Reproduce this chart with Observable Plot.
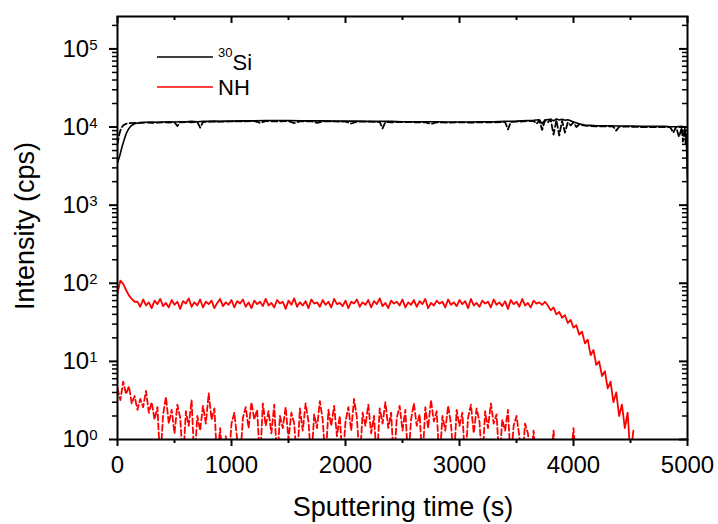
<!DOCTYPE html>
<html><head><meta charset="utf-8">
<script src="https://cdn.jsdelivr.net/npm/d3@7"></script>
<script src="https://cdn.jsdelivr.net/npm/@observablehq/plot@0.6"></script>
<style>
body{margin:0;background:#fff;}
#chart svg{font-family:"Liberation Sans",Arial,sans-serif;}
</style>
</head><body><div id="chart"></div>
<script>
// ---- 30Si, solid trace ----
const siSolidTime = [0,20,40,60,80,100,120,150,200,250,300,350,400,450,500,550,600,650,700,750,800,850,900,950,1000,1100,1200,1300,1400,1500,1600,1700,1800,1900,2000,2100,2200,2300,2400,2500,2600,2700,2800,2900,3000,3100,3200,3300,3400,3500,3550,3600,3650,3700,3725,3750,3800,3825,3850,3875,3900,3925,3950,3975,4000,4050,4100,4150,4200,4300,4400,4500,4600,4700,4800,4850,4900,4950,4975,4990,5000];
const siSolidCps = [3500,4300,5600,7000,8500,9600,10400,11000,11400,11500,11600,11500,11600,11700,11600,11700,11700,11800,11700,11800,11800,11900,11800,11900,11900,12000,12000,12100,12100,12100,12000,12000,12000,11900,11900,11900,11800,11800,11800,11700,11700,11700,11700,11600,11600,11600,11700,11700,11800,11900,12000,12100,12200,12400,11000,12300,12600,12000,12700,12300,12600,12200,12400,12000,11600,11000,10600,10500,10400,10400,10300,10300,10200,10200,10200,10100,10100,10200,10000,7000,2200];
// ---- 30Si, dashed trace ----
const siDashTime = [0,15,30,50,75,100,150,200,250,300,350,400,450,500,525,550,600,650,700,725,750,800,900,1000,1100,1200,1250,1300,1400,1500,1550,1600,1700,1750,1800,1900,2000,2050,2100,2200,2300,2325,2350,2400,2500,2600,2700,2750,2800,2900,3000,3100,3200,3300,3400,3425,3450,3500,3600,3650,3675,3700,3725,3750,3775,3800,3825,3850,3875,3900,3925,3950,3975,4000,4025,4050,4100,4150,4200,4300,4350,4375,4400,4500,4600,4700,4800,4850,4875,4900,4925,4950,4960,4975,4985,5000];
const siDashCps = [6000,8000,9500,10500,11000,11200,11300,11300,11400,11300,11400,11500,11400,11500,10300,11500,11600,11500,11600,9800,11600,11700,11700,11800,11800,11900,11300,11900,11800,11900,11200,11800,11900,11300,11800,11800,11700,11100,11700,11700,11600,9600,11600,11500,11600,11500,11500,11000,11500,11400,11500,11400,11500,11500,11600,9300,11600,11700,11900,12000,11000,12100,9200,12200,11500,12500,8000,12300,7800,12000,8500,11500,10500,11500,10000,10800,10400,10300,10200,10200,10100,9000,10100,10100,10000,10000,10000,9900,8500,10000,7500,9800,6500,9500,6000,9000];
// ---- NH, solid trace (one reading every 25 s) ----
const nhStep = 25;
const nhSolidCps = [75,108,98,82,70,63,58,
  58,50,62,52,57,48,60,54,63,51,56,49,
  61,53,58,47,59,55,64,50,57,52,62,49,
  58,54,60,48,56,63,51,57,53,61,49,59,
  55,62,50,57,48,60,54,58,51,63,52,56,
  49,61,55,58,47,60,53,64,50,57,52,59,
  48,62,55,57,50,61,53,58,49,63,54,56,
  51,60,48,58,55,62,50,57,53,61,49,59,
  54,64,51,56,48,60,55,58,52,62,49,57,
  53,61,50,59,54,63,48,56,52,60,55,58,
  49,62,53,57,51,61,54,59,48,63,52,56,
  50,60,55,58,49,62,53,57,51,59,47,61,
  54,58,50,63,52,56,49,60,55,57,53,58,
  52,45,49,40,43,36,39,31,34,27,29,22,24,17,19,12,14,9,10,6.5,7.5,4.5,5.5,3.0,4.0,2.0,2.8,1.4,2.2,0.6,1.3];
// ---- NH, dashed trace (one reading every 25 s) ----
const nhDashCps = [4.5,3.2,5.5,3.8,4.8,2.9,3.6,2.4,3.3,2.6,4.2,2.2,3.0,1.8,2.6,0.5,2.1,3.5,1.6,2.4,1.2,2.8,1.9,0.5,2.3,1.5,3.2,0.5,2.0,1.3,2.7,1.6,3.9,1.8,2.5,0.5,1.4,0.5,1.1,0.5,1.6,2.2,1.0,0.5,1.9,2.6,1.4,3.0,1.8,2.4,0.5,2.9,1.5,2.3,1.2,2.8,0.5,2.0,1.4,2.6,1.0,2.2,1.6,0.5,2.5,1.3,2.9,1.7,0.5,2.1,1.4,3.1,1.8,0.5,2.4,1.5,2.7,1.1,2.0,0.5,1.7,2.6,1.3,3.3,1.9,0.5,2.2,1.5,2.8,1.2,2.0,0.5,2.5,1.6,3.0,1.4,2.2,0.5,1.9,2.7,1.3,2.4,0.5,1.8,2.9,1.5,2.1,0.5,2.6,1.4,3.2,1.7,2.3,0.5,2.0,1.3,2.7,1.6,0.5,2.4,1.5,2.2,0.5,1.9,2.8,1.2,2.5,1.7,0.5,2.3,1.4,2.9,1.6,2.1,0.5,1.8,1.3,2.4,0.5,1.5,2.0,1.1,0.5,1.6,1.2,0.5,1.3,0.5,0.5,0.5,0.5,0.5,0.5,1.3,0.5,0.5,0.5,0.5,0.5,0.5,1.4,0.5,0.5,0.5];

// ---- axes ----
const xMajorTicks = [0,1000,2000,3000,4000,5000];
const xMinorTicks = [500,1500,2500,3500,4500];
const yMajorTicks = [1,10,100,1000,10000,100000];
const yMinorMult = [2,3,4,5,6,7,8,9];
const yMinorTicks = yMajorTicks.flatMap(p => yMinorMult.map(m => m * p)).filter(v => v <= 2.6e5);
const xTitle = "Sputtering time (s)";
const yTitle = "Intensity (cps)";
const legendLabels = [{sup: "30", main: "Si"}, {sup: "", main: "NH"}];
const seriesColors = ["#000000", "#ff0000"];

const table = (ts, vs) => ts.map((t, i) => ({t, v: vs[i]}));
const byStep = (vs, step) => vs.map((v, i) => ({t: i * step, v}));
const siSolid = table(siSolidTime, siSolidCps);
const siDash = table(siDashTime, siDashCps);
const nhSolid = byStep(nhSolidCps, nhStep);
const nhDash = byStep(nhDashCps, nhStep);

const W = 718, H = 524, mL = 117, mR = 31, mT = 16, mB = 85;
const fW = W - mL - mR, fH = H - mT - mB;
const blank = () => "";
const plot = Plot.plot({
  width: W, height: H,
  marginLeft: mL, marginRight: mR, marginTop: mT, marginBottom: mB,
  style: {fontFamily: "'Liberation Sans', Arial, sans-serif", background: "white", color: "black", overflow: "visible"},
  x: {domain: [0, 5000]},
  y: {type: "log", domain: [1, 2.6e5]},
  marks: [
    Plot.line(nhDash, {x: "t", y: "v", stroke: seriesColors[1], strokeWidth: 1.8, strokeDasharray: "6,3", clip: true}),
    Plot.line(nhSolid, {x: "t", y: "v", stroke: seriesColors[1], strokeWidth: 1.8, clip: true}),
    Plot.line(siDash, {x: "t", y: "v", stroke: seriesColors[0], strokeWidth: 1.8, strokeDasharray: "6,3", clip: true}),
    Plot.line(siSolid, {x: "t", y: "v", stroke: seriesColors[0], strokeWidth: 1.6, clip: true}),
    // bottom: outward ticks with labels
    Plot.axisX({ticks: xMajorTicks, tickSize: 7, tickPadding: 9, fontSize: 24, strokeWidth: 2, label: null, tickFormat: d => String(d)}),
    Plot.axisX({ticks: xMinorTicks, tickSize: 4, strokeWidth: 2, label: null, tickFormat: blank}),
    // top: inward ticks
    Plot.tickX(xMajorTicks, {x: d => d, stroke: "black", strokeWidth: 2, insetBottom: fH - 7}),
    Plot.tickX(xMinorTicks, {x: d => d, stroke: "black", strokeWidth: 2, insetBottom: fH - 4}),
    // left: outward ticks with labels
    Plot.axisY({ticks: yMajorTicks, tickSize: 8, tickPadding: 12, fontSize: 24, strokeWidth: 2, label: null, tickFormat: d => "10^" + Math.round(Math.log10(d))}),
    Plot.axisY({ticks: yMinorTicks, tickSize: 5, strokeWidth: 1.5, label: null, tickFormat: blank}),
    // right: inward ticks
    Plot.tickY(yMajorTicks, {y: d => d, stroke: "black", strokeWidth: 2, insetLeft: fW - 8}),
    Plot.tickY(yMinorTicks, {y: d => d, stroke: "black", strokeWidth: 1.5, insetLeft: fW - 5}),
    Plot.frame({stroke: "black", strokeWidth: 2})
  ]
});

// superscript exponents on y tick labels
d3.select(plot).selectAll("text").each(function() {
  const s = this.textContent;
  if (/^10\^\d+$/.test(s)) {
    const [base, exp] = s.split("^");
    const el = d3.select(this);
    el.text(null);
    el.append("tspan").text(base);
    el.append("tspan").attr("font-size", 15).attr("dy", "-0.45em").text(exp);
  }
});

const svg = d3.select(plot);
// axis titles
svg.append("text").attr("x", 403).attr("y", 516).attr("text-anchor", "middle")
  .attr("font-size", 27).attr("fill", "black").text(xTitle);
svg.append("text").attr("transform", "translate(34,226) rotate(-90)").attr("text-anchor", "middle")
  .attr("font-size", 27).attr("fill", "black").text(yTitle);

// legend
const lg = svg.append("g").attr("text-anchor", "start");
legendLabels.forEach((d, i) => {
  const y = 57 + i * 30;
  lg.append("line").attr("x1", 157).attr("x2", 213).attr("y1", y).attr("y2", y)
    .attr("stroke", seriesColors[i]).attr("stroke-width", 1.6);
  const t = lg.append("text").attr("x", 218).attr("y", y + 8).attr("font-size", 22)
    .attr("fill", "black").attr("text-anchor", "start");
  if (d.sup) {
    t.append("tspan").attr("font-size", 13).attr("dy", "-0.6em").text(d.sup);
    t.append("tspan").attr("dy", "0.6em").text(d.main);
  } else {
    t.text(d.main);
  }
});

document.getElementById("chart").appendChild(plot);
</script>
</body></html>
